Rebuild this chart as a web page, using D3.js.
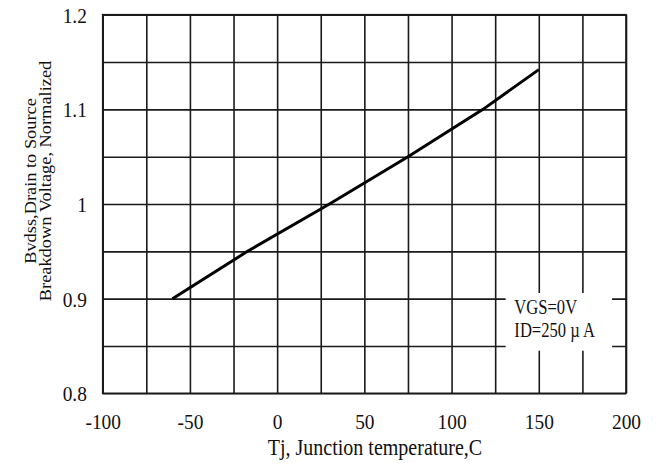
<!DOCTYPE html>
<html>
<head>
<meta charset="utf-8">
<script src="https://cdn.jsdelivr.net/npm/d3@7"></script>
<style>
  body { margin: 0; background: #fff; }
  text { font-family: "Liberation Serif", "Times New Roman", serif; fill: #111; }
</style>
</head>
<body>
<div id="chart"></div>
<script>
// data
const temps = [-60, -17, 30, 75, 118, 150]
const bvdss = [0.9, 0.95, 1.0, 1.05, 1.1, 1.142]

const xTicks = [-100, -50, 0, 50, 100, 150, 200]
const yTicks = [0.8, 0.9, 1, 1.1, 1.2]

const noteLines = ['VGS=0V', 'ID=250 \u00b5 A']
const xTitle = 'Tj, Junction temperature,C'
const yTitle = ['Bvdss,Drain to Source', 'Breakdown Voltage, Normalized']

const MARGIN = { TOP: 14.7, BOTTOM: 70.7, LEFT: 102.7, RIGHT: 30 }
const WIDTH = 656 - MARGIN.LEFT - MARGIN.RIGHT
const HEIGHT = 464 - MARGIN.TOP - MARGIN.BOTTOM

const svg = d3.select('#chart')
  .append('svg')
    .attr('width', 656)
    .attr('height', 464)

const g = svg.append('g')
  .attr('transform', `translate(${MARGIN.LEFT}, ${MARGIN.TOP})`)

const x = d3.scaleLinear().domain([-100, 200]).range([0, WIDTH])
const y = d3.scaleLinear().domain([0.8, 1.2]).range([HEIGHT, 0])

// grid lines (every 25 C and every 0.05)
const xGrid = g.append('g')
  .attr('transform', `translate(0, ${HEIGHT})`)
  .call(d3.axisBottom(x).tickValues(d3.range(-100, 201, 25)).tickSize(-HEIGHT).tickFormat(''))
const yGrid = g.append('g')
  .call(d3.axisLeft(y).tickValues(d3.range(0.8, 1.2001, 0.05)).tickSize(-WIDTH).tickFormat(''))

;[xGrid, yGrid].forEach(a => {
  a.select('.domain').remove()
  a.selectAll('line').attr('stroke', '#1a1a1a').attr('stroke-width', 1.6)
})

g.append('rect')
  .attr('width', WIDTH)
  .attr('height', HEIGHT)
  .attr('fill', 'none')
  .attr('stroke', '#1a1a1a')
  .attr('stroke-width', 1.6)

// tick labels
const xAxis = g.append('g')
  .attr('transform', `translate(0, ${HEIGHT})`)
  .call(d3.axisBottom(x).tickValues(xTicks).tickSize(0).tickFormat(d => String(d)))
xAxis.select('.domain').remove()
xAxis.selectAll('text')
  .attr('y', 35.5)
  .attr('dy', 0)
  .attr('transform', 'scale(0.88,1)')
  .style('font-size', '22px')

const yAxis = g.append('g')
  .call(d3.axisLeft(y).tickValues(yTicks).tickSize(0).tickFormat(d => String(d)))
yAxis.select('.domain').remove()
yAxis.selectAll('text')
  .attr('x', -18)
  .attr('dy', '0.34em')
  .attr('transform', 'scale(0.88,1)')
  .style('font-size', '22px')

// note box
const note = g.append('g')
note.append('rect')
  .attr('x', x(131))
  .attr('y', y(0.906))
  .attr('width', x(192) - x(131))
  .attr('height', y(0.845) - y(0.906))
  .attr('fill', '#fff')
note.selectAll('text')
  .data(noteLines)
  .enter()
  .append('text')
    .attr('transform', (d, i) => `translate(${x(136)}, ${y([0.8835, 0.859][i])}) scale(0.79,1)`)
    .style('font-size', '21px')
    .text(d => d)

// curve
const line = d3.line()
  .x(d => x(d[0]))
  .y(d => y(d[1]))

g.append('path')
  .datum(temps.map((t, i) => [t, bvdss[i]]))
  .attr('d', line)
  .attr('fill', 'none')
  .attr('stroke', '#000')
  .attr('stroke-width', 3)

// axis titles
svg.append('text')
  .attr('transform', `translate(375, 455) scale(0.87,1)`)
  .attr('text-anchor', 'middle')
  .style('font-size', '23px')
  .text(xTitle)

svg.selectAll('.ytitle')
  .data(yTitle)
  .enter()
  .append('text')
    .attr('class', 'ytitle')
    .attr('transform', (d, i) => `translate(${36 + i * 15}, 181) rotate(-90) scale(1.08,1)`)
    .attr('text-anchor', 'middle')
    .style('font-size', '17px')
    .text(d => d)
</script>
</body>
</html>
